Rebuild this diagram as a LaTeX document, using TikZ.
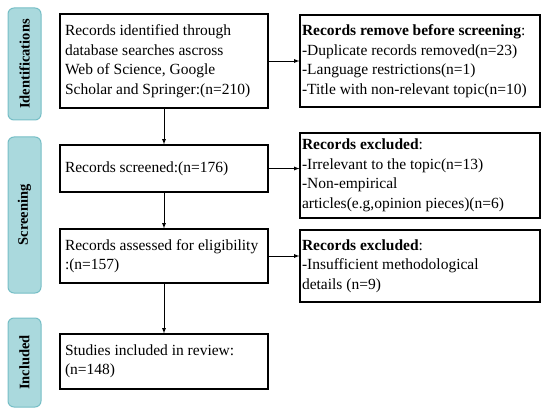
\documentclass[tikz,border=0pt]{standalone}
\usepackage{fontspec}
\setmainfont{Liberation Serif}
\usepackage{xcolor}
\definecolor{phasefill}{RGB}{170,217,221}
\definecolor{phaseline}{RGB}{118,190,198}
\tikzset{
	stagebox/.style={draw=black, line width=1.2pt, align=flush left, inner xsep=5pt, inner ysep=4pt,
		font=\fontsize{15.5}{19.5}\selectfont},
	sidebox/.style={stagebox, inner xsep=2pt},
	phasebox/.style={draw=phaseline, fill=phasefill, line width=1pt, rounded corners=6pt,
		rotate=90, minimum height=33pt, font=\fontsize{14.5}{16}\selectfont\bfseries},
	flow/.style={-latex, line width=0.8pt}
}

\begin{document}
\begin{tikzpicture}[x=1pt,y=-1pt]
\useasboundingbox (0,0) rectangle (550,412);
% phases
\node[phasebox, minimum width=112pt] (ident) at (24.5,64) {Identifications};
\node[phasebox, minimum width=156pt] (screen) at (24.5,215) {Screening};
\node[phasebox, minimum width=89pt] (incl) at (24.5,362.5) {Included};
% main column
\node[stagebox, text width=198pt, minimum height=94pt] (found) at (164,61)
	{Records identified through\\database searches ascross\\Web of Science, Google\\Scholar and Springer:(n=210)};
\node[stagebox, text width=198pt, minimum height=47pt] (screened) at (164,168.5)
	{Records screened:(n=176)};
\node[stagebox, text width=198pt, minimum height=54pt] (eligible) at (164,256)
	{Records assessed for eligibility\\:(n=157)};
\node[stagebox, text width=198pt, minimum height=55pt] (included) at (164,361.5)
	{Studies included in review:\\(n=148)};
% side column
\node[sidebox, text width=236pt, minimum height=92pt] (removed) at (420,61)
	{\textbf{Records remove before screening}:\\-Duplicate records removed(n=23)\\-Language restrictions(n=1)\\-Title with non-relevant topic(n=10)};
\node[sidebox, text width=236pt, minimum height=85pt] (excl1) at (420,175.5)
	{\textbf{Records excluded}:\\-Irrelevant to the topic(n=13)\\-Non-empirical\\articles(e.g,opinion pieces)(n=6)};
\node[sidebox, text width=236pt, minimum height=72pt] (excl2) at (420,266)
	{\textbf{Records excluded}:\\-Insufficient methodological\\details (n=9)};
% arrows
\draw[flow] (found) -- (screened);
\draw[flow] (screened) -- (eligible);
\draw[flow] (eligible) -- (included);
\draw[flow] (found.east) -- (found.east -| removed.west);
\draw[flow] (screened.east) -- (screened.east -| excl1.west);
\draw[flow] (eligible.east) -- (eligible.east -| excl2.west);
\end{tikzpicture}
\end{document}
